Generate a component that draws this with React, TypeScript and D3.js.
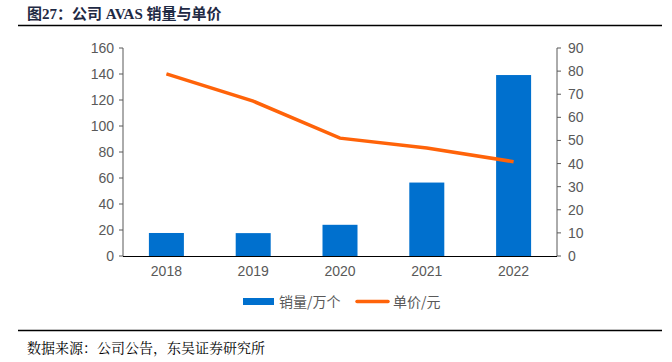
import React from "react";
import * as d3 from "d3";

const years = ["2018", "2019", "2020", "2021", "2022"];
const sales = [17.7, 17.6, 24, 56.5, 139.2];
const prices = [78.8, 67, 51, 46.7, 40.8];
const leftTicks = [0, 20, 40, 60, 80, 100, 120, 140, 160];
const rightTicks = [0, 10, 20, 30, 40, 50, 60, 70, 80, 90];

const W = 672, H = 362;
const x0 = 123, x1 = 557, yTop = 48, yBot = 256;
const font = "'Liberation Sans', Arial, sans-serif";
const serif = "'Noto Sans CJK SC', serif";

export default function App() {
  const x = d3.scaleBand().domain(years).range([x0, x1]).paddingInner(0.6).paddingOuter(0.3);
  const yL = d3.scaleLinear().domain([0, 160]).range([yBot, yTop]);
  const yR = d3.scaleLinear().domain([0, 90]).range([yBot, yTop]);
  const band = d3.scaleBand().domain(years).range([x0, x1]);
  const cx = (d: string) => (band(d) as number) + band.bandwidth() / 2;
  const line = d3.line<number>().x((_, i) => cx(years[i])).y((d) => yR(d));
  const bw = 35;
  return (
    <svg width={W} height={H} style={{ position: "absolute", left: 0, top: 0, background: "#fff" }}>
      <text x={27} y={19} fontSize={15} fontWeight="bold" fill="#1f2a44" fontFamily="'Liberation Serif', 'Noto Sans CJK SC', serif">图27：公司 AVAS 销量与单价</text>
      <line x1={18} x2={662} y1={25.5} y2={25.5} stroke="#000" strokeWidth={1.5} />
      {years.map((d, i) => (
        <rect key={d} x={cx(d) - bw / 2} y={yL(sales[i])} width={bw} height={yBot - yL(sales[i])} fill="#0070ce" />
      ))}
      <path d={line(prices) || ""} fill="none" stroke="#ff6309" strokeWidth={3.5} />
      <line x1={x0} x2={x0} y1={yTop} y2={yBot} stroke="#595959" strokeWidth={1} />
      <line x1={x1} x2={x1} y1={yTop} y2={yBot} stroke="#595959" strokeWidth={1} />
      <line x1={x0} x2={x1} y1={yBot + 0.5} y2={yBot + 0.5} stroke="#000" strokeWidth={1} />
      {leftTicks.map((t) => (
        <g key={"l" + t}>
          <line x1={x0 - 4} x2={x0} y1={yL(t)} y2={yL(t)} stroke="#595959" />
          <text x={x0 - 9} y={yL(t) + 5} textAnchor="end" fontSize={14} fill="#595959" fontFamily={font}>{t}</text>
        </g>
      ))}
      {rightTicks.map((t) => (
        <g key={"r" + t}>
          <line x1={x1} x2={x1 + 4} y1={yR(t)} y2={yR(t)} stroke="#595959" />
          <text x={x1 + 11} y={yR(t) + 5} textAnchor="start" fontSize={14} fill="#595959" fontFamily={font}>{t}</text>
        </g>
      ))}
      {years.map((d) => (
        <text key={"x" + d} x={cx(d)} y={276} textAnchor="middle" fontSize={14} fill="#595959" fontFamily={font}>{d}</text>
      ))}
      <rect x={243} y={298} width={31} height={7} fill="#0070ce" />
      <text x={279} y={307} fontSize={14} fill="#595959" fontFamily={serif}>销量/万个</text>
      <line x1={357} x2={388} y1={301.5} y2={301.5} stroke="#ff6309" strokeWidth={3.5} strokeLinecap="round" />
      <text x={393} y={307} fontSize={14} fill="#595959" fontFamily={serif}>单价/元</text>
      <line x1={18} x2={662} y1={330.5} y2={330.5} stroke="#000" strokeWidth={1.5} />
      <text x={27} y={353} fontSize={14} fill="#000" fontFamily="'Noto Serif CJK SC', 'Noto Sans CJK SC', serif">数据来源：公司公告，东吴证券研究所</text>
    </svg>
  );
}
